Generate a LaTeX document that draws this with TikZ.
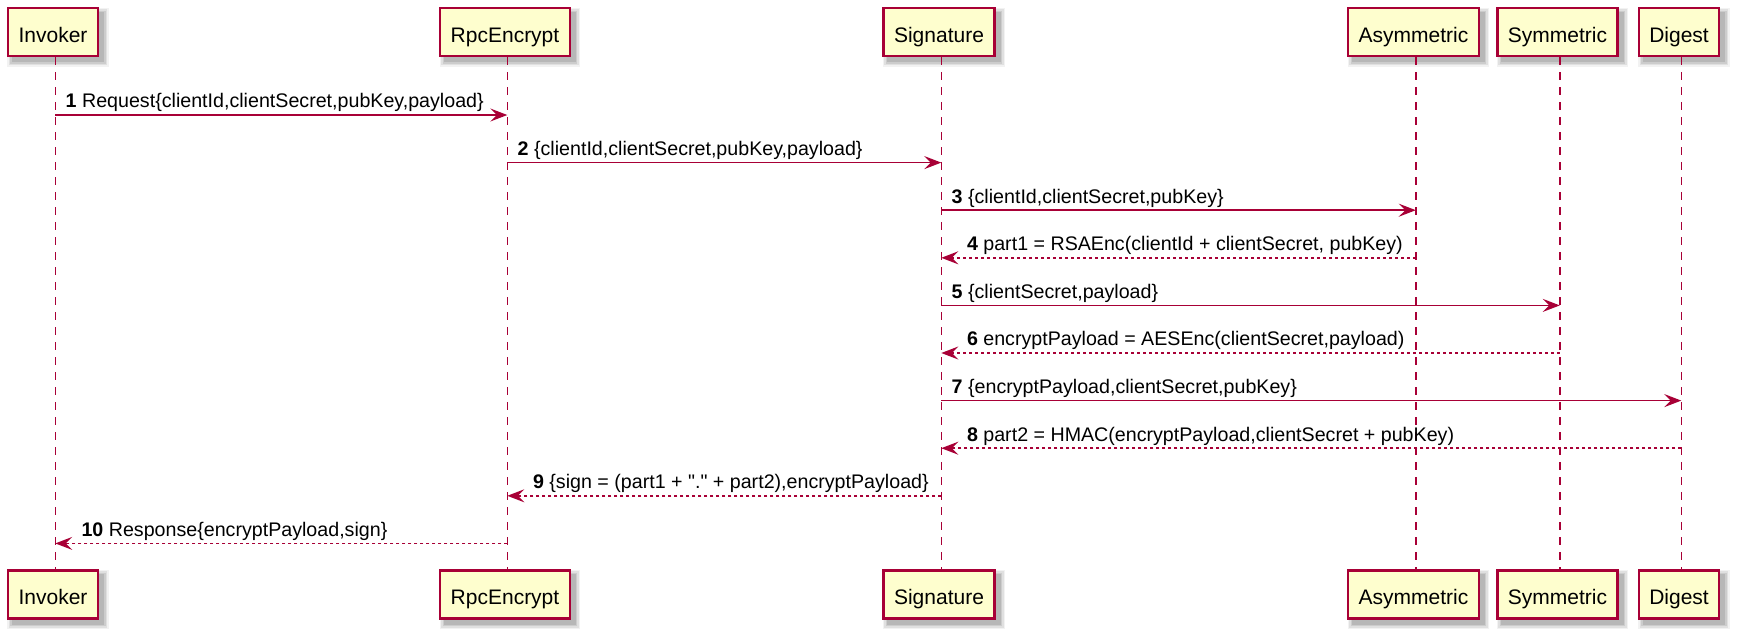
\documentclass[tikz,border=0pt]{standalone}
\usepackage{fontspec}
\setmainfont{Liberation Sans}[Ligatures=TeXOff]
\usetikzlibrary{arrows.meta,backgrounds}
\definecolor{pfill}{HTML}{FEFECE}
\definecolor{pline}{HTML}{A80036}
\begin{document}
\begin{tikzpicture}[x=1pt,y=-1pt,
  part/.style={draw=pline, line width=2.25pt, fill=pfill, minimum height=48pt,
    inner xsep=10.5pt, inner ysep=0pt, text height=20pt, text depth=0pt,
    font=\fontsize{21}{25}\selectfont, text=black},
  life/.style={draw=pline, line width=1.5pt, dash pattern=on 7.5pt off 7.5pt},
  msg/.style={draw=pline, line width=1.5pt, -{Stealth[length=17pt,width=13pt,inset=6.5pt]}},
  ret/.style={msg, dash pattern=on 3pt off 3pt},
  lbl/.style={anchor=base west, inner sep=0pt, font=\fontsize{19.65}{23}\selectfont, text=black}
]
\useasboundingbox (0,0) rectangle (1738,638);
% participants (top)
\node[part] (inv) at (53,32.3) {Invoker};
\node[part] (rpc) at (505,32.3) {RpcEncrypt};
\node[part] (sig) at (939,32.3) {Signature};
\node[part] (asy) at (1413.5,32.3) {Asymmetric};
\node[part] (sym) at (1557.5,32.3) {Symmetric};
\node[part] (dig) at (1679,32.3) {Digest};
% participants (bottom)
\node[part] (inv2) at (53,594.5) {Invoker};
\node[part] (rpc2) at (505,594.5) {RpcEncrypt};
\node[part] (sig2) at (939,594.5) {Signature};
\node[part] (asy2) at (1413.5,594.5) {Asymmetric};
\node[part] (sym2) at (1557.5,594.5) {Symmetric};
\node[part] (dig2) at (1679,594.5) {Digest};
% shadows
\begin{scope}[on background layer]
  \fill[white] (0,0) rectangle (1738,638);
  \foreach \n in {inv,rpc,sig,asy,sym,dig,inv2,rpc2,sig2,asy2,sym2,dig2}{
    \foreach \k/\o in {0/0.10,1.5/0.09,3/0.07,4.5/0.05}{
      \fill[black, opacity=\o]
        ([shift={(5-\k,5+\k)}]\n.south west) rectangle ([shift={(5+\k,5-\k)}]\n.north east);
    }
  }
\end{scope}
% lifelines
\foreach \n in {inv,rpc,sig,asy,sym,dig}{
  \coordinate (\n L) at ([xshift=2.3pt]\n.south);
  \coordinate (\n B) at ([xshift=2.3pt]\n2.north);
  \draw[life] (\n L) -- (\n B);
}
% messages
\draw[msg] (invL |- 0,115) -- (rpcL |- 0,115);
\node[lbl] (l1) at (65.5,107.8) {\textbf{1} Request\{clientId,clientSecret,pubKey,payload\}};
\draw[msg] (rpcL |- 0,162.6) -- (sigL |- 0,162.6);
\node[lbl] (l2) at (517.5,155.4) {\textbf{2} \{clientId,clientSecret,pubKey,payload\}};
\draw[msg] (sigL |- 0,210.2) -- (asyL |- 0,210.2);
\node[lbl] (l3) at (951.5,203) {\textbf{3} \{clientId,clientSecret,pubKey\}};
\draw[ret] (asyL |- 0,257.8) -- (sigL |- 0,257.8);
\node[lbl] (l4) at (966.8,250.6) {\textbf{4} part1 = RSAEnc(clientId + clientSecret, pubKey)};
\draw[msg] (sigL |- 0,305.4) -- (symL |- 0,305.4);
\node[lbl] (l5) at (951.5,298.2) {\textbf{5} \{clientSecret,payload\}};
\draw[ret] (symL |- 0,353) -- (sigL |- 0,353);
\node[lbl] (l6) at (966.8,345.8) {\textbf{6} encryptPayload = AESEnc(clientSecret,payload)};
\draw[msg] (sigL |- 0,400.6) -- (digL |- 0,400.6);
\node[lbl] (l7) at (951.5,393.4) {\textbf{7} \{encryptPayload,clientSecret,pubKey\}};
\draw[ret] (digL |- 0,448.2) -- (sigL |- 0,448.2);
\node[lbl] (l8) at (966.8,441) {\textbf{8} part2 = HMAC(encryptPayload,clientSecret + pubKey)};
\draw[ret] (sigL |- 0,495.8) -- (rpcL |- 0,495.8);
\node[lbl] (l9) at (532.8,488.6) {\textbf{9} \{sign = (part1 + "." + part2),encryptPayload\}};
\draw[ret] (rpcL |- 0,543.4) -- (invL |- 0,543.4);
\node[lbl] (l10) at (81.3,536.2) {\textbf{10} Response\{encryptPayload,sign\}};
\end{tikzpicture}
\end{document}
